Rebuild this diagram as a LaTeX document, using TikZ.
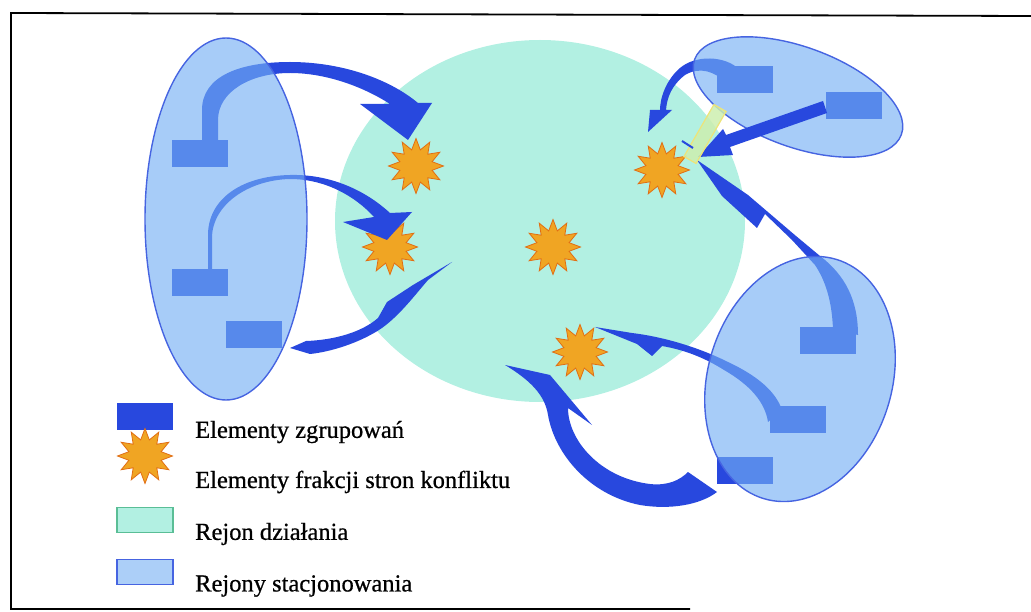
\documentclass[tikz,border=0pt]{standalone}
\usepackage{fontspec}
\setmainfont{Liberation Serif}
\newfontfamily\lgfont{Liberation Serif}[FakeBold=0.7]
\usetikzlibrary{shapes.geometric,positioning}
\definecolor{grpblue}{RGB}{40,72,222}
\definecolor{rdfill}{RGB}{178,240,226}
\definecolor{rdline}{RGB}{90,190,150}
\definecolor{rsfill}{RGB}{116,175,244}
\definecolor{rsline}{RGB}{70,100,225}
\definecolor{frkfill}{RGB}{240,165,35}
\definecolor{frkline}{RGB}{225,110,20}
\definecolor{przfill}{RGB}{205,238,175}
\definecolor{przline}{RGB}{238,228,120}
\begin{document}
\begin{tikzpicture}[x=1pt,y=-1pt,
    rd/.style={ellipse, fill=rdfill, inner sep=0pt},
    rs/.style={ellipse, draw=rsline, line width=1.4pt, fill=rsfill, fill opacity=0.63, inner sep=0pt},
    grp/.style={rectangle, fill=grpblue, minimum width=56pt, minimum height=27pt, inner sep=0pt},
    frk/.style={star, star points=12, star point ratio=1.65, fill=frkfill, draw=frkline, line width=0.8pt, minimum size=55pt, inner sep=0pt},
    arw/.style={fill=grpblue},
    lbl/.style={anchor=west, inner sep=0pt, font=\lgfont\fontsize{24.5}{28}\selectfont}
]
\useasboundingbox (0,0) rectangle (1031,612);
\draw[line width=1.8pt] (1031,16) -- (11,13) -- (11,609) -- (690,609);

% rejon dzialania
\node[rd, minimum width=410pt, minimum height=362pt] (rd) at (540,221) {};

% frakcje
\node[frk] (f1) at (416,166) {};
\node[frk] (f2) at (390,247) {};
\node[frk] (f3) at (553,247) {};
\node[frk] (f4) at (662,170) {};
\node[frk] (f5) at (580,352) {};

% zgrupowania
\node[grp] (gL1) at (200,154) {};
\node[grp] (gL2) at (200,283) {};
\node[grp] (gL3) at (254,335) {};
\node[grp] (gT1) at (745,80) {};
\node[grp] (gT2) at (854,106) {};
\node[grp] (gB1) at (828,341) {};
\node[grp] (gB2) at (798,419) {};
\node[grp] (gB3) at (745,470) {};

% strzalki
\fill[arw] (202,142) -- (202,110) .. controls (202,76) and (240,62) .. (290,62)
  .. controls (340,62) and (388,78) .. (418,103) -- (432,103) -- (408,140) -- (360,104) -- (390,104)
  .. controls (362,86) and (325,73) .. (290,73) .. controls (250,73) and (218,92) .. (218,120) -- (218,142) -- cycle;
\fill[arw] (208,270) -- (208,235) .. controls (208,200) and (240,176) .. (290,175)
  .. controls (330,174) and (365,190) .. (390,213) -- (412,212) -- (387,240) -- (343,222) -- (374,217)
  .. controls (355,196) and (325,179) .. (290,179) .. controls (248,180) and (212,205) .. (212,238) -- (212,270) -- cycle;
\fill[arw] (290,348) -- (306,341) .. controls (335,340) and (362,332) .. (378,318) -- (387,302) -- (413,285) -- (452,262)
  -- (428,280) .. controls (415,295) and (400,315) .. (382,328) .. controls (360,343) and (330,352) .. (310,354) -- cycle;
\fill[arw] (740,70) .. controls (725,55) and (695,55) .. (680,68) .. controls (666,80) and (660,98) .. (660,110)
  -- (650,110) -- (648,132) -- (672,110) -- (666,110) .. controls (667,97) and (672,85) .. (685,75)
  .. controls (700,66) and (715,72) .. (725,82) -- cycle;
\fill[arw] (833,330) .. controls (832,300) and (825,280) .. (815,265) -- (792,240) -- (765,214) -- (757,228)
  -- (722,196) -- (697,160) -- (748,195) -- (796,236) -- (820,256) .. controls (845,275) and (858,300) .. (858,335) -- cycle;
\fill[arw] (768,422) .. controls (765,402) and (750,385) .. (724,370) .. controls (705,358) and (685,350) .. (662,346)
  -- (652,356) -- (637,344) -- (595,327) -- (632,333) .. controls (665,337) and (700,348) .. (728,362)
  .. controls (758,376) and (776,392) .. (782,410) -- cycle;
\fill[arw] (505,365) -- (550,375) -- (592,425) -- (568,408) .. controls (568,440) and (600,478) .. (650,484)
  .. controls (668,486) and (680,480) .. (688,472) -- (717,492) .. controls (700,505) and (670,510) .. (640,505)
  .. controls (590,495) and (555,455) .. (548,415) .. controls (545,395) and (530,380) .. (505,365) -- cycle;

% rejony stacjonowania
\node[rs, minimum width=162pt, minimum height=362pt] (rsL) at (226,219) {};
\node[rs, minimum width=220pt, minimum height=100pt, rotate=-20] (rsT) at (798,97) {};
\node[rs, minimum width=250pt, minimum height=184pt, rotate=73] (rsB) at (800,379) {};

% przejscie
\fill[arw] (823,101) -- (827,113) -- (730,147) -- (733,155) -- (698,157) -- (723,129) -- (726,135) -- cycle;
\node[rectangle, rotate=60, minimum width=60pt, minimum height=14pt, fill=przfill, fill opacity=0.85,
  draw=przline, line width=1.2pt] (prz) at (705,134) {};
\draw[grpblue, line width=2pt] (682,141) -- (693,148);

% legenda
\node[grp] (lgG) at (145,416) {};
\node[frk] (lgF) at (145,456) {};
\node[rectangle, minimum width=56pt, minimum height=25pt, fill=rdfill, draw=rdline, line width=1.2pt] (lgR) at (145,520) {};
\node[rectangle, minimum width=56pt, minimum height=25pt, fill=rsfill!60, draw=rsline, line width=1.4pt] (lgS) at (145,572) {};
\node[lbl] (tG) at (195,432) {Elementy zgrupowań};
\node[lbl] (tF) at (195,482) {Elementy frakcji stron konfliktu};
\node[lbl] (tR) at (195,534) {Rejon działania};
\node[lbl] (tS) at (195,586) {Rejony stacjonowania};
\end{tikzpicture}
\end{document}
